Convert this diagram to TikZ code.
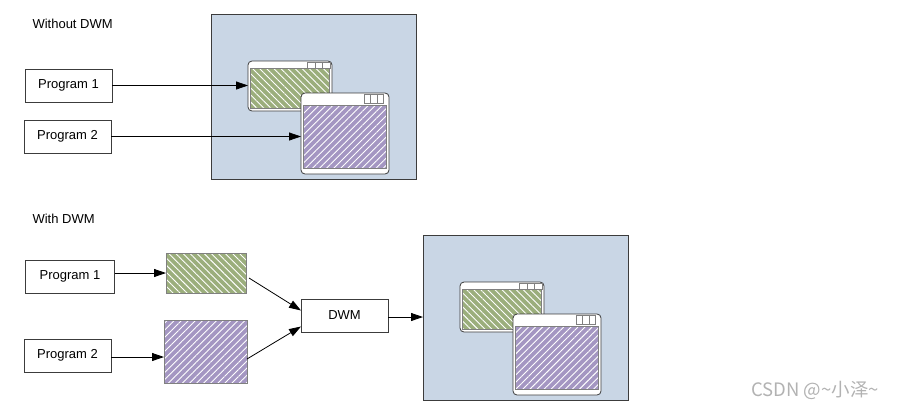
\documentclass[tikz,border=0pt]{standalone}
\usepackage{fontspec}
\setmainfont{Liberation Sans}
\newfontfamily\cjkfont{Noto Sans CJK SC}
\usepackage{xcolor}
\usetikzlibrary{arrows.meta,patterns.meta,calc}

\definecolor{schermo}{RGB}{201,214,229}
\definecolor{verde}{RGB}{155,174,124}
\definecolor{viola}{RGB}{164,150,194}
\definecolor{bordo}{RGB}{60,60,60}
\definecolor{grigio}{RGB}{128,128,128}

\tikzset{
  testo/.style={font=\fontsize{13}{15}\selectfont},
  prog/.style={testo, draw=bordo, line width=0.8pt, outer sep=0pt,
    minimum width=87pt, minimum height=33pt},
  freccia/.style={-{Triangle[length=12pt,width=8pt]}, line width=0.8pt},
  finestra/.style={draw=bordo, fill=white, line width=0.8pt, rounded corners=4pt,
    outer sep=0pt},
  tasto/.style={draw=grigio, fill=white, line width=0.6pt},
  trverde/.style={draw=grigio, line width=0.6pt, preaction={fill=verde},
    pattern={Lines[angle=-45,distance=5pt,line width=0.9pt]}, pattern color=white},
  trviola/.style={draw=grigio, line width=0.6pt, preaction={fill=viola},
    pattern={Lines[angle=45,distance=5pt,line width=0.9pt]}, pattern color=white}
}

\begin{document}
\begin{tikzpicture}[x=1pt, y=-1pt]
        \useasboundingbox (0,0) rectangle (901,410);

        % Titoli
        \node[testo, anchor=west] (tsenza) at (29,24) {Without DWM};
        \node[testo, anchor=west] (tcon) at (29,219) {With DWM};

        % Schermi con le due finestre
        \foreach \n/\sx/\sy in {a/211/14, b/423/235} {
            \node[draw=bordo, fill=schermo, line width=0.8pt, outer sep=0pt,
                  minimum width=205pt, minimum height=165pt, anchor=north west]
                  (scr\n) at (\sx,\sy) {};
            % finestra verde
            \node[finestra, minimum width=84pt, minimum height=50pt]
                  (fin1\n) at (\sx+79,\sy+72) {};
            \draw[trverde] ($(fin1\n.north west)+(2.5,7)$)
                  rectangle ($(fin1\n.south east)+(-2.5,-2.5)$);
            \foreach \k in {0,1,2}
                \draw[tasto] ($(fin1\n.north east)+(-24.5+7.5*\k,0.8)$)
                      rectangle ++(7.5,6);
            % finestra viola
            \node[finestra, minimum width=88pt, minimum height=81pt]
                  (fin2\n) at (\sx+134,\sy+119.5) {};
            \draw[trviola] ($(fin2\n.north west)+(2.5,12.5)$)
                  rectangle ($(fin2\n.south east)+(-2.5,-5.5)$);
            \foreach \k in {0,1,2}
                \draw[tasto] ($(fin2\n.north east)+(-25+6.5*\k,0.8)$)
                      rectangle ++(6.5,9.5);
        }

        % Senza DWM
        \node[prog] (prog1a) at (68.5,85.5) {Program 1};
        \node[prog] (prog2a) at (67.5,136.5) {Program 2};
        \draw[freccia] (prog1a.east) -- (prog1a.east -| fin1a.west);
        \draw[freccia] (prog2a.east) -- (prog2a.east -| fin2a.west);

        % Con DWM
        \node[prog, minimum width=89pt] (prog1b) at (70,276.5) {Program 1};
        \node[prog] (prog2b) at (67.5,355.5) {Program 2};
        \node[trverde, line width=0.8pt, minimum width=80pt, minimum height=40pt,
              outer sep=0pt] (grn) at (206,273) {};
        \node[trviola, line width=0.8pt, minimum width=83pt, minimum height=63pt,
              outer sep=0pt] (vio) at (205.5,351.5) {};
        \node[prog] (dwm) at (344.5,315.5) {DWM};

        \draw[freccia] (prog1b.east |- grn) -- (grn.west);
        \draw[freccia] ($(prog2b.east)+(0,1.5)$) -- ($(prog2b.east -| vio.west)+(0,1.5)$);
        \draw[freccia] ($(grn.east)+(3,5)$) -- ($(dwm.west)+(0,-5)$);
        \draw[freccia] ($(vio.east)+(0,7.5)$) -- ($(dwm.west)+(0,11)$);
        \draw[freccia] ($(dwm.east)+(0,1.5)$) -- ($(dwm.east -| scrb.west)+(0,1.5)$);

        % Filigrana
        \node[anchor=west, text=black!30, inner sep=0pt] (firma) at (751,390)
            {\cjkfont\fontsize{18.5}{20}\selectfont CSDN @\textasciitilde 小泽\textasciitilde};
\end{tikzpicture}
\end{document}
